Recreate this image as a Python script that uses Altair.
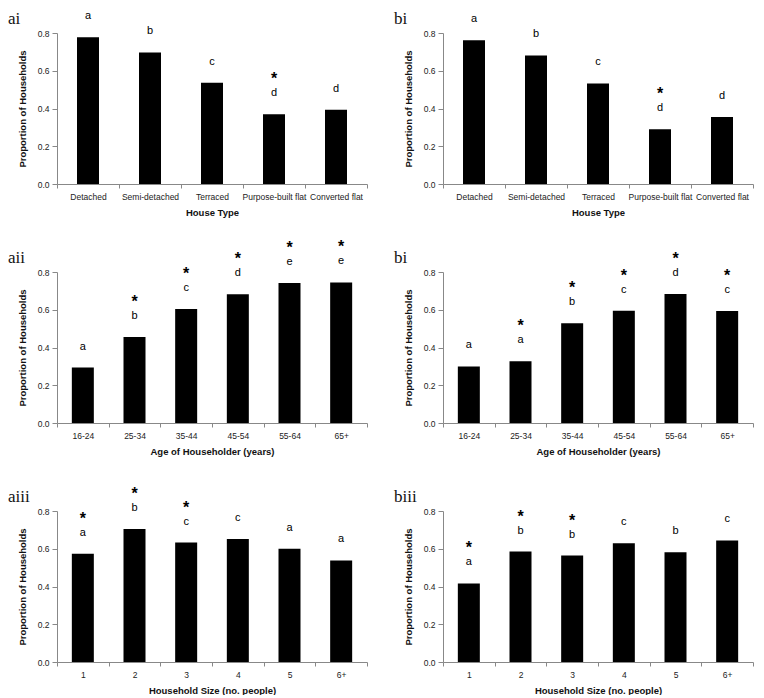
import altair as alt
import pandas as pd

# ---- categories ----
house_types = ["Detached", "Semi-detached", "Terraced", "Purpose-built flat", "Converted flat"]
ages = ["16-24", "25-34", "35-44", "45-54", "55-64", "65+"]
hh_sizes = ["1", "2", "3", "4", "5", "6+"]

# ---- values (proportion of households) ----
ai_values = [0.778, 0.697, 0.536, 0.370, 0.393]
bi_values = [0.762, 0.681, 0.533, 0.290, 0.355]
aii_values = [0.294, 0.455, 0.604, 0.682, 0.742, 0.745]
bii_values = [0.300, 0.327, 0.528, 0.595, 0.683, 0.593]
aiii_values = [0.574, 0.704, 0.633, 0.652, 0.600, 0.538]
biii_values = [0.416, 0.585, 0.564, 0.629, 0.582, 0.644]

# ---- significance letters and stars ----
ai_letters = ["a", "b", "c", "d", "d"]
bi_letters = ["a", "b", "c", "d", "d"]
aii_letters = ["a", "b", "c", "d", "e", "e"]
bii_letters = ["a", "a", "b", "c", "d", "c"]
aiii_letters = ["a", "b", "c", "c", "a", "a"]
biii_letters = ["a", "b", "b", "c", "b", "c"]

ai_stars = [0, 0, 0, 1, 0]
bi_stars = [0, 0, 0, 1, 0]
aii_stars = [0, 1, 1, 1, 1, 1]
bii_stars = [0, 1, 1, 1, 1, 1]
aiii_stars = [1, 1, 1, 0, 0, 0]
biii_stars = [1, 1, 1, 0, 0, 0]

SANS = "Liberation Sans"
W, H = 310, 151


def panel(name, cats, vals, letters, stars, xtitle):
    df = pd.DataFrame({
        "cat": cats,
        "value": vals,
        "letter": letters,
        "star": stars,
    })
    x = alt.X(
        "cat:N", sort=cats, title=xtitle,
        scale=alt.Scale(paddingInner=0, paddingOuter=0),
        axis=alt.Axis(labelAngle=0, tickBand="extent", tickSize=4,
                      labelFontSize=8.5, labelFont=SANS, labelColor="#222",
                      labelPadding=4, titleFont=SANS, titleFontSize=9.5,
                      titleFontWeight="bold", titleColor="#111", titlePadding=7,
                      domainColor="#888", tickColor="#888"),
    )
    y = alt.Y(
        "value:Q", title="Proportion of Households",
        scale=alt.Scale(domain=[0, 0.8], nice=False),
        axis=alt.Axis(values=[0, 0.2, 0.4, 0.6, 0.8], format=".1f", tickSize=5,
                      labelFontSize=8.5, labelFont=SANS, labelColor="#222",
                      labelPadding=3, labelOverlap=False, titleFont=SANS,
                      titleFontSize=9.5, titleFontWeight="bold", titleColor="#111",
                      titlePadding=10, domainColor="#888", tickColor="#888",
                      grid=False),
    )
    base = alt.Chart(df).encode(x=x, y=y)
    bars = base.mark_bar(color="black", size=22)
    lets = base.mark_text(dy=-21, fontSize=11, font=SANS, color="black",
                          baseline="middle").encode(text="letter:N")
    sts = base.transform_filter(alt.datum.star == 1).mark_text(
        text="*", dy=-35, fontSize=16, font=SANS, fontWeight="bold",
        color="black", baseline="middle")
    label = alt.Chart(pd.DataFrame({"t": [name]})).mark_text(
        font="Liberation Serif", fontSize=17, color="#111", align="left",
        baseline="alphabetic",
    ).encode(text="t:N", x=alt.value(-49), y=alt.value(-9))
    return alt.layer(bars, lets, sts, label).properties(width=W, height=H)


panels = [
    panel("ai", house_types, ai_values, ai_letters, ai_stars, "House Type"),
    panel("bi", house_types, bi_values, bi_letters, bi_stars, "House Type"),
    panel("aii", ages, aii_values, aii_letters, aii_stars, "Age of Householder (years)"),
    panel("bi", ages, bii_values, bii_letters, bii_stars, "Age of Householder (years)"),
    panel("aiii", hh_sizes, aiii_values, aiii_letters, aiii_stars, "Household Size (no. people)"),
    panel("biii", hh_sizes, biii_values, biii_letters, biii_stars, "Household Size (no. people)"),
]

chart = alt.concat(
    *panels, columns=2, spacing=alt.RowColnumber(row=88, column=76), bounds="flush"
).properties(
    padding={"top": 2, "left": 0, "right": 0, "bottom": 0}
).configure_view(stroke=None)

chart.save("out.html", embed_options={"renderer": "svg", "actions": False})
